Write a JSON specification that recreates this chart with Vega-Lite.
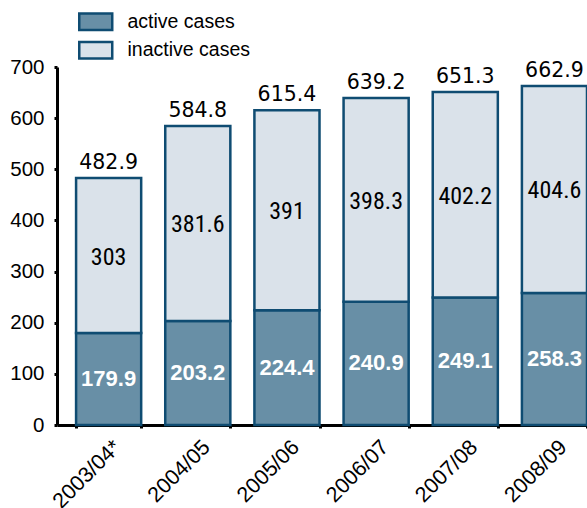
{
  "$schema": "https://vega.github.io/schema/vega-lite/v6.json",
  "autosize": "none",
  "width": 530,
  "height": 358,
  "padding": {"left": 57, "top": 67, "right": 0, "bottom": 83},
  "background": "white",
  "datasets": {
    "cases": [
      {"year": "2003/04*", "status": "active cases", "value": 179.9},
      {"year": "2003/04*", "status": "inactive cases", "value": 303},
      {"year": "2004/05", "status": "active cases", "value": 203.2},
      {"year": "2004/05", "status": "inactive cases", "value": 381.6},
      {"year": "2005/06", "status": "active cases", "value": 224.4},
      {"year": "2005/06", "status": "inactive cases", "value": 391},
      {"year": "2006/07", "status": "active cases", "value": 240.9},
      {"year": "2006/07", "status": "inactive cases", "value": 398.3},
      {"year": "2007/08", "status": "active cases", "value": 249.1},
      {"year": "2007/08", "status": "inactive cases", "value": 402.2},
      {"year": "2008/09", "status": "active cases", "value": 258.3},
      {"year": "2008/09", "status": "inactive cases", "value": 404.6}
    ],
    "totals": [
      {"year": "2003/04*", "total": 482.9},
      {"year": "2004/05", "total": 584.8},
      {"year": "2005/06", "total": 615.4},
      {"year": "2006/07", "total": 639.2},
      {"year": "2007/08", "total": 651.3},
      {"year": "2008/09", "total": 662.9}
    ]
  },
  "encoding": {
    "x": {
      "field": "year",
      "type": "nominal",
      "sort": null,
      "title": null,
      "scale": {"paddingInner": 0.27, "paddingOuter": 0.107, "align": 1},
      "axis": {
        "labelAngle": -45,
        "labelFont": "Liberation Sans",
        "labelFontSize": 21.5,
        "labelColor": "black",
        "labelOffset": 1,
        "labelPadding": 8,
        "domainColor": "black",
        "domainWidth": 3,
        "tickColor": "black",
        "tickWidth": 3,
        "tickSize": 3,
        "tickBand": "extent",
        "grid": false
      }
    }
  },
  "layer": [
    {
      "data": {"name": "cases"},
      "mark": {"type": "bar", "stroke": "#0f4c72", "strokeWidth": 2.5},
      "encoding": {
        "y": {
          "field": "value",
          "type": "quantitative",
          "stack": "zero",
          "title": null,
          "scale": {"domain": [0, 700], "nice": false},
          "axis": {
            "values": [0, 100, 200, 300, 400, 500, 600, 700],
            "labelFont": "Liberation Sans",
            "labelFontSize": 20.5,
            "labelColor": "black",
            "labelPadding": 10,
            "domainColor": "black",
            "domainWidth": 3,
            "tickColor": "black",
            "tickWidth": 3,
            "tickSize": 3,
            "grid": false
          }
        },
        "color": {
          "field": "status",
          "type": "nominal",
          "scale": {"domain": ["active cases", "inactive cases"], "range": ["#688fa6", "#dae2ea"]},
          "legend": {
            "title": null,
            "orient": "none",
            "legendX": 29,
            "legendY": -55,
            "padding": 0,
            "symbolType": "M-2,-1H2V1H-2Z",
            "symbolSize": 272,
            "symbolStrokeColor": "#0f4c72",
            "symbolStrokeWidth": 2.5,
            "symbolOpacity": 1,
            "labelFont": "Liberation Sans",
            "labelFontSize": 19.5,
            "labelColor": "black",
            "labelOffset": 22,
            "rowPadding": 1.5
          }
        },
        "order": {"field": "status", "sort": "ascending"}
      }
    },
    {
      "data": {"name": "cases"},
      "transform": [
        {"stack": "value", "groupby": ["year"], "sort": [{"field": "status", "order": "ascending"}], "as": ["y0", "y1"]},
        {"calculate": "(datum.y0 + datum.y1) / 2", "as": "ymid"},
        {"filter": "datum.status === 'active cases'"}
      ],
      "mark": {"type": "text", "font": "Liberation Sans", "fontWeight": "bold", "fontSize": 22, "color": "white", "baseline": "middle", "dy": 0},
      "encoding": {
        "y": {"field": "ymid", "type": "quantitative"},
        "text": {"field": "value", "type": "nominal"}
      }
    },
    {
      "data": {"name": "cases"},
      "transform": [
        {"stack": "value", "groupby": ["year"], "sort": [{"field": "status", "order": "ascending"}], "as": ["y0", "y1"]},
        {"calculate": "(datum.y0 + datum.y1) / 2", "as": "ymid"},
        {"filter": "datum.status === 'inactive cases'"}
      ],
      "mark": {"type": "text", "font": "Liberation Sans Narrow, Arial Narrow, Roboto Condensed, Liberation Sans", "fontSize": 24, "color": "black", "baseline": "middle", "dy": 2},
      "encoding": {
        "y": {"field": "ymid", "type": "quantitative"},
        "text": {"field": "value", "type": "nominal"}
      }
    },
    {
      "data": {"name": "totals"},
      "mark": {"type": "text", "font": "DejaVu Sans", "fontSize": 20.5, "color": "black", "baseline": "alphabetic", "dy": -9},
      "encoding": {
        "y": {"field": "total", "type": "quantitative"},
        "text": {"field": "total", "type": "nominal"}
      }
    }
  ],
  "config": {
    "view": {"stroke": null},
    "axis": {"labelFlush": false}
  }
}
